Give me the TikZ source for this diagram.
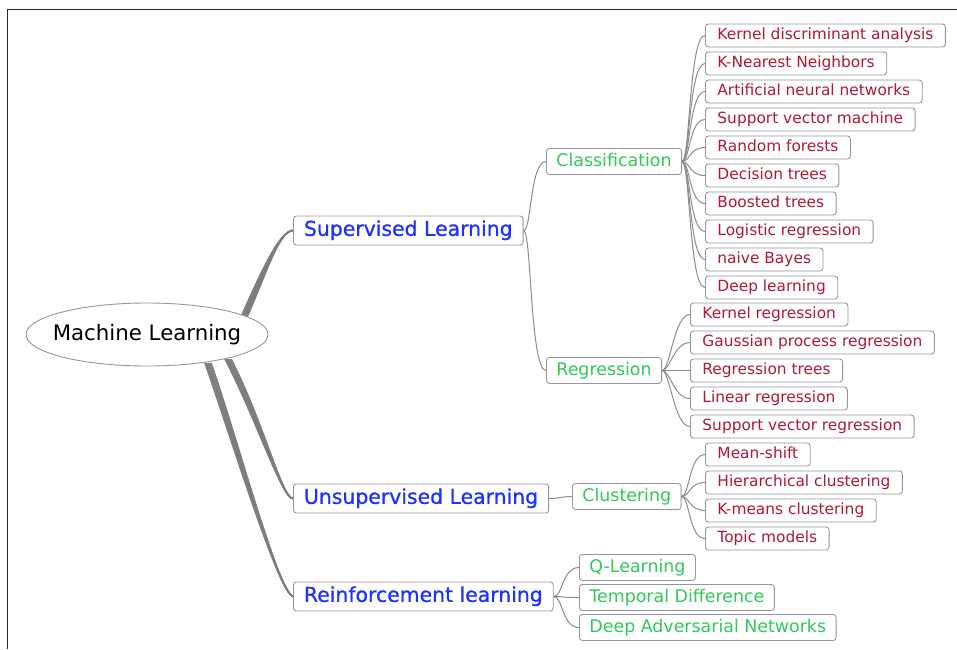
\documentclass[tikz,border=0pt]{standalone}
\usepackage{fontspec}
\setmainfont{DejaVu Sans}
\newfontfamily\topicfont[FakeBold=0.9]{DejaVu Sans}
\usepackage{tikz}
\usetikzlibrary{calc, backgrounds}

\definecolor{boxgray}{RGB}{150,150,150}
\definecolor{linkgray}{RGB}{140,140,140}
\definecolor{trunkgray}{RGB}{125,125,125}
\definecolor{framegray}{RGB}{40,40,40}
\definecolor{topicblue}{RGB}{30,50,250}
\definecolor{subgreen}{RGB}{50,200,90}
\definecolor{leafred}{RGB}{175,25,55}

\tikzset{
  box/.style={draw=boxgray, fill=white, rounded corners=3pt, line width=0.9pt, anchor=west, inner ysep=0pt},
  topic/.style={box, text=topicblue, inner xsep=10.5pt, minimum height=29pt,
    font=\topicfont\fontsize{20.4}{24}\selectfont, text height=15pt, text depth=4.3pt},
  sub/.style={box, text=subgreen, inner xsep=10pt, minimum height=26pt,
    font=\fontsize{17.4}{21}\selectfont, text height=12.8pt, text depth=3.7pt},
  leaf/.style={box, text=leafred, inner xsep=12pt, minimum height=23pt,
    font=\fontsize{15.4}{18}\selectfont, text height=11.3pt, text depth=3.3pt},
  twig/.style={draw=linkgray, line width=1pt},
  trunk/.style={draw=trunkgray, line width=1.6pt}
}

\begin{document}
\begin{tikzpicture}[x=1pt, y=-1pt, every node/.append style={yshift=-1.5pt}]
    \useasboundingbox (0,0) rectangle (957,649);

    % root
    \node[font=\fontsize{21.3}{25}\selectfont, inner sep=0pt] (ml) at (147,333) {Machine Learning};

    % learning types
    \node[topic] (sl) at (293,229) {Supervised Learning};
    \node[topic] (ul) at (293,497) {Unsupervised Learning};
    \node[topic] (rl) at (293,595) {Reinforcement learning};

    % tasks
    \node[sub] (cls) at (546,160) {Classification};
    \node[sub] (reg) at (546,369) {Regression};
    \node[sub] (clu) at (572,495) {Clustering};
    \node[sub] (ql)  at (579,566) {Q-Learning};
    \node[sub] (td)  at (579,596) {Temporal Difference};
    \node[sub] (dan) at (579,626) {Deep Adversarial Networks};

    % classification methods
    \node[leaf] (kda) at (705,34)  {Kernel discriminant analysis};
    \node[leaf] (knn) at (705,62)  {K-Nearest Neighbors};
    \node[leaf] (ann) at (705,90)  {Artificial neural networks};
    \node[leaf] (svm) at (705,118) {Support vector machine};
    \node[leaf] (rf)  at (705,146) {Random forests};
    \node[leaf] (dt)  at (705,174) {Decision trees};
    \node[leaf] (bt)  at (705,202) {Boosted trees};
    \node[leaf] (lgr) at (705,230) {Logistic regression};
    \node[leaf] (nb)  at (705,258) {naive Bayes};
    \node[leaf] (dl)  at (705,286) {Deep learning};

    % regression methods
    \node[leaf] (kr)  at (690,313) {Kernel regression};
    \node[leaf] (gpr) at (690,341) {Gaussian process regression};
    \node[leaf] (rt)  at (690,369) {Regression trees};
    \node[leaf] (lnr) at (690,397) {Linear regression};
    \node[leaf] (svr) at (690,425) {Support vector regression};

    % clustering methods
    \node[leaf] (ms)  at (705,453) {Mean-shift};
    \node[leaf] (hc)  at (705,481) {Hierarchical clustering};
    \node[leaf] (km)  at (705,509) {K-means clustering};
    \node[leaf] (tm)  at (705,537) {Topic models};

    % thin links
    \foreach \c in {kda,knn,ann,svm,rf,dt,bt,lgr,nb,dl}
        \draw[twig] (cls.east) .. controls +(8,0) and +(-16,0) .. (\c.west);
    \foreach \c in {kr,gpr,rt,lnr,svr}
        \draw[twig] (reg.east) .. controls +(8,0) and +(-16,0) .. (\c.west);
    \foreach \c in {ms,hc,km,tm}
        \draw[twig] (clu.east) .. controls +(8,0) and +(-16,0) .. (\c.west);
    \foreach \c in {cls,reg}
        \draw[twig] (sl.east) .. controls +(8,0) and +(-16,0) .. (\c.west);
    \draw[twig] (ul.east) .. controls +(12,0) and +(-12,0) .. (clu.west);
    \foreach \c in {ql,td,dan}
        \draw[twig] (rl.east) .. controls +(9,0) and +(-17,0) .. (\c.west);

    % frame, thick branches and the root ellipse
    \begin{pgfonlayer}{background}
        \draw[framegray, line width=1pt] (7,649) -- (7,9) -- (957,9);
        \coordinate (s1) at ($(ml.center)+(97,-19)$);
        \coordinate (s2) at ($(ml.center)+(81,23)$);
        \coordinate (s3) at ($(ml.center)+(61,27)$);
        \foreach \d in {-3,-1.5,0,1.5,3} {
            \draw[trunk] ($(s1)+(\d,0)$) .. controls +(18,-40) and +(-14,0) .. (sl.west);
            \draw[trunk] ($(s2)+(\d,0)$) .. controls +(33,64) and +(-11,0) .. (ul.west);
            \draw[trunk] ($(s3)+(\d,0)$) .. controls +(27,77) and +(-15,-5) .. (rl.west);
        }
        \draw[boxgray, fill=white, line width=0.9pt] (ml.center) ellipse (121 and 31.5);
    \end{pgfonlayer}
\end{tikzpicture}
\end{document}
